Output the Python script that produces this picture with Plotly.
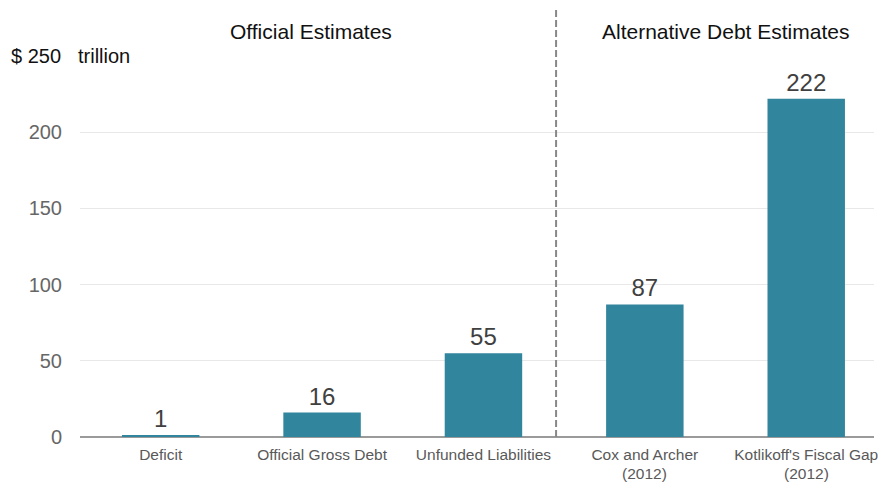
import plotly.graph_objects as go

categories = ["Deficit", "Official Gross Debt", "Unfunded Liabilities",
              "Cox and Archer", "Kotlikoff's Fiscal Gap"]
sublabels = ["", "", "", "(2012)", "(2012)"]
values = [1, 16, 55, 87, 222]
y_ticks = [0, 50, 100, 150, 200, 250]
y_tick_labels = ["0", "50", "100", "150", "200", ""]
group_titles = ["Official Estimates", "Alternative Debt Estimates"]
group_title_x = [0.93, 3.5]
divider_x = 2.45

x = list(range(len(categories)))
color = "#31859C"
FONT = "Liberation Sans, Arial"

fig = go.Figure()
fig.add_trace(go.Bar(
    x=x, y=values, width=0.48,
    marker=dict(color=color, line=dict(width=0)),
    text=[str(v) for v in values], textposition="outside",
    textfont=dict(family=FONT, size=24, color="#404040"),
    cliponaxis=False,
))

fig.update_layout(
    width=878, height=482,
    margin=dict(l=80, r=0, t=56, b=45),
    plot_bgcolor="white", paper_bgcolor="white",
    showlegend=False,
    font=dict(family=FONT),
    xaxis=dict(range=[-0.5, 4.42], tickmode="array", tickvals=x, ticktext=categories,
               tickfont=dict(size=15.5, color="#595959"), showgrid=False, zeroline=False,
               showline=False, ticks="", ticklabelstandoff=6, ticklabeloverflow="allow"),
    yaxis=dict(range=[0, 250], tickmode="array", tickvals=y_ticks, ticktext=y_tick_labels,
               tickfont=dict(size=20, color="#666666"), gridcolor="#e8e8e8", gridwidth=1,
               zeroline=True, zerolinecolor="#9a9a9a", zerolinewidth=1.5, showline=False,
               ticks="", ticklabelstandoff=17),
)

for xi, s in zip(x, sublabels):
    if s:
        fig.add_annotation(x=xi, xref="x", y=0, yref="y", yshift=-36, yanchor="middle",
                           text=s, showarrow=False,
                           font=dict(size=15.5, color="#595959"))

fig.add_annotation(x=0, xref="paper", xanchor="right", xshift=-17, y=250, yref="y",
                   yanchor="middle", text="$ 250", showarrow=False,
                   font=dict(size=20, color="#111111"))
fig.add_annotation(x=0, xref="paper", xanchor="left", xshift=-4, y=250, yref="y",
                   yanchor="middle", text="trillion", showarrow=False,
                   font=dict(size=20, color="#111111"))

for t, gx in zip(group_titles, group_title_x):
    fig.add_annotation(x=gx, xref="x", y=1, yref="paper", yshift=25, yanchor="middle",
                       text=t, showarrow=False, font=dict(size=21, color="#111111"))

fig.add_shape(type="line", x0=divider_x, x1=divider_x, xref="x", y0=0, y1=1.126, yref="paper",
              line=dict(color="#888888", width=2, dash="7px,3px"))

fig.write_html("out.html")
